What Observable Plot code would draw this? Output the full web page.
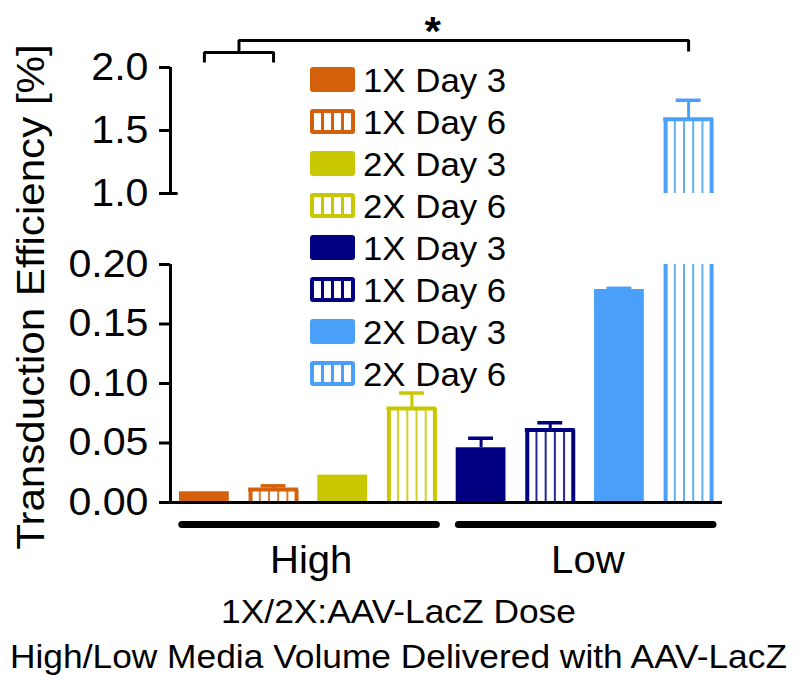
<!DOCTYPE html>
<html>
<head>
<meta charset="utf-8">
<script src="https://cdn.jsdelivr.net/npm/d3@7"></script>
<script src="https://cdn.jsdelivr.net/npm/@observablehq/plot@0.6"></script>
<style>
  body { margin: 0; background: #fff; }
  #wrap { position: relative; width: 800px; height: 684px; font-family: "Liberation Sans", Arial, Helvetica, sans-serif; }
  #legend { position: absolute; left: 310px; top: 58px; }
  .row { display: flex; align-items: center; height: 42px; }
  .sw { width: 45px; height: 25px; box-sizing: border-box; border-radius: 3px; flex: none; }
  .lab { margin-left: 8px; font-size: 33px; line-height: 42px; color: #000; white-space: nowrap;
         transform: scaleX(1.055); transform-origin: left center; position: relative; top: 2px; }
</style>
</head>
<body>
<div id="wrap"></div>
<script>
// ---------------- data ----------------
const barIds   = ["High 1X Day 3", "High 1X Day 6", "High 2X Day 3", "High 2X Day 6",
                  "Low 1X Day 3", "Low 1X Day 6", "Low 2X Day 3", "Low 2X Day 6"];
const volumes  = ["High", "High", "High", "High", "Low", "Low", "Low", "Low"];
const values   = [0.009, 0.011, 0.023, 0.079, 0.046, 0.061, 0.179, 1.59];
const errors   = [0, 0.003, 0, 0.013, 0.008, 0.006, 0.001, 0.15];
const colors   = ["#D4600C", "#D4600C", "#C9C800", "#C9C800", "#000080", "#000080", "#4AA0F8", "#4AA0F8"];
const striped  = [false, true, false, true, false, true, false, true];
const legendLabels = ["1X Day 3", "1X Day 6", "2X Day 3", "2X Day 6", "1X Day 3", "1X Day 6", "2X Day 3", "2X Day 6"];
const groupNames = ["High", "Low"];
const yTicks = [0, 0.05, 0.10, 0.15, 0.20, 1.0, 1.5, 2.0];
const yBreakDomain = [0, 0.2, 1.0, 2.0];      // axis break: 0–0.20 and 1.0–2.0
const yBreakLength = [0, 238, 309, 435];      // relative length of each axis piece
const ySegments = [[0, 0.2], [1.0, 2.0]];
const yTitle = "Transduction Efficiency [%]";
const captionLines = ["1X/2X:AAV-LacZ Dose", "High/Low Media Volume Delivered with AAV-LacZ"];
// significance annotation: bars 0 & 1 compared against bar 7
const sigPair = [0, 1];
const sigTarget = 7;
const sigLevels = {legLow: 2.04, level1: 2.119, level2: 2.214, targetLeg: 2.127, star: 2.175};
const sigStarX = 3.3;
const sigLabel = "*";

// ---------------- derived tables ----------------
const HW = 0.36;          // half bar width (in bar-index units)
const xDomain = [-0.49, 7.49];
const brk = d3.scaleLinear().domain(yBreakDomain).range(yBreakLength);
const bars = barIds.map((id, i) => ({id, i, volume: volumes[i], value: values[i], err: errors[i], color: colors[i], striped: striped[i]}));
const segs = bars.flatMap(b => ySegments.filter(([lo]) => b.value > lo)
  .map(([lo, hi]) => ({...b, lo, hi: Math.min(hi, b.value), top: b.value <= hi})));
const solidSegs = segs.filter(s => !s.striped);
const stripeSegs = segs.filter(s => s.striped);
const errBars = bars.filter(b => b.err > 0);
const groups = groupNames.map(name => {
  const idx = bars.filter(b => b.volume === name).map(b => b.i);
  return {name, first: d3.min(idx), last: d3.max(idx)};
});
const bracket = [
  {part: "a", x: sigPair[0], y: sigLevels.legLow},
  {part: "a", x: sigPair[0], y: sigLevels.level1},
  {part: "a", x: sigPair[1], y: sigLevels.level1},
  {part: "a", x: sigPair[1], y: sigLevels.legLow},
  {part: "b", x: (sigPair[0] + sigPair[1]) / 2, y: sigLevels.level1},
  {part: "b", x: (sigPair[0] + sigPair[1]) / 2, y: sigLevels.level2},
  {part: "b", x: sigTarget, y: sigLevels.level2},
  {part: "b", x: sigTarget, y: sigLevels.targetLeg}
];
const stripeOffsets = [-13.8, -4.6, 4.6, 13.8];
const fmtTick = u => { const v = brk.invert(u); return v < 0.5 ? v.toFixed(2) : v.toFixed(1); };

const chart = Plot.plot({
  width: 800,
  height: 684,
  marginLeft: 170,
  marginRight: 78,
  marginTop: 0,
  marginBottom: 0,
  style: {fontFamily: "Liberation Sans, Arial, Helvetica, sans-serif", fontSize: "33px", color: "#000", background: "transparent"},
  x: {domain: xDomain, axis: null},
  y: {transform: brk, domain: [yBreakLength[0], yBreakLength[3]], range: [502, 67], label: null},
  marks: [
    // solid bars
    Plot.rectY(solidSegs, {x1: d => d.i - HW, x2: d => d.i + HW, y1: "lo", y2: "hi", fill: d => d.color}),
    // striped bars: interior stripes
    ...stripeOffsets.map(off => Plot.ruleX(stripeSegs, {x: "i", y1: "lo", y2: "hi", stroke: d => d.color, strokeWidth: 2, strokeOpacity: 0.85, dx: off})),
    // striped bars: edges
    Plot.ruleX(stripeSegs, {x: "i", y1: "lo", y2: "hi", stroke: d => d.color, strokeWidth: 4, dx: -23}),
    Plot.ruleX(stripeSegs, {x: "i", y1: "lo", y2: "hi", stroke: d => d.color, strokeWidth: 4, dx: 23}),
    Plot.ruleY(stripeSegs.filter(s => s.top), {y: "hi", x1: d => d.i - HW, x2: d => d.i + HW, stroke: d => d.color, strokeWidth: 4}),
    // error bars
    Plot.ruleX(errBars, {x: "i", y1: "value", y2: d => d.value + d.err, stroke: d => d.color, strokeWidth: 3}),
    Plot.ruleY(errBars, {y: d => d.value + d.err, x1: d => d.i - 0.18, x2: d => d.i + 0.18, stroke: d => d.color, strokeWidth: 3.5}),
    // baseline and broken axis line (with the little break cap at the bottom of the upper piece)
    Plot.ruleY([0], {stroke: "#000", strokeWidth: 3}),
    Plot.ruleX(ySegments, {x: () => xDomain[0], y1: d => d[0], y2: d => d[1], stroke: "#000", strokeWidth: 3}),
    Plot.ruleY([ySegments[1][0]], {x1: () => xDomain[0], x2: () => xDomain[0] + 0.11, stroke: "#000", strokeWidth: 3}),
    // axis ticks live in the (break-transformed) scale space
    Plot.axisY({ticks: yTicks.map(brk), tickFormat: fmtTick, tickSize: 11, tickPadding: 11,
                fontSize: 39, strokeWidth: 3, label: null}),
    // group underlines and labels
    Plot.ruleY(groups, {y: () => 0, dy: 22, x1: d => d.first - 0.32, x2: d => d.last + HW, stroke: "#000", strokeWidth: 7, strokeLinecap: "round"}),
    Plot.text(groups, {x: d => (d.first + d.last) / 2, text: "name", frameAnchor: "bottom", lineAnchor: "bottom", dy: -112, dx: 3, fontSize: 38}),
    // captions
    Plot.text([captionLines[0]], {frameAnchor: "bottom", textAnchor: "middle", lineAnchor: "bottom", dx: -48, dy: -62, fontSize: 33.5}),
    Plot.text([captionLines[1]], {frameAnchor: "bottom", textAnchor: "middle", lineAnchor: "bottom", dx: -48, dy: -17, fontSize: 33.5}),
    // y title
    Plot.text([yTitle], {frameAnchor: "left", textAnchor: "middle", rotate: -90, lineAnchor: "bottom", dx: -127, dy: -45.5, fontSize: 39}),
    // significance bracket
    Plot.line(bracket, {x: "x", y: "y", z: "part", stroke: "#000", strokeWidth: 3, strokeLinejoin: "miter", strokeLinecap: "butt"}),
    Plot.text([sigLabel], {x: () => sigStarX, y: () => sigLevels.star, lineAnchor: "bottom", fontSize: 40, fontWeight: "bold"})
  ]
});

// slight horizontal stretch of the text, as in the reference
chart.querySelectorAll("text").forEach(t => {
  const tr = t.getAttribute("transform") || "";
  const xa = t.getAttribute("x");
  let extra = "";
  if (xa !== null && !isNaN(+xa) && +xa !== 0) { extra = ` translate(${+xa},0)`; t.removeAttribute("x"); }
  const s = tr.includes("rotate") ? " scale(1.08,1)" : " scale(1.055,1)";
  t.setAttribute("transform", (tr + extra + s).trim());
});

const wrap = document.getElementById("wrap");
wrap.appendChild(chart);

// legend
const legend = document.createElement("div");
legend.id = "legend";
legendLabels.forEach((lab, k) => {
  const row = document.createElement("div");
  row.className = "row";
  const sw = document.createElement("div");
  sw.className = "sw";
  const c = colors[k];
  if (striped[k]) {
    sw.style.border = `4px solid ${c}`;
    sw.style.background = `repeating-linear-gradient(90deg, #fff 0 7px, ${c} 7px 10px)`;
  } else {
    sw.style.background = c;
  }
  const tx = document.createElement("span");
  tx.className = "lab";
  tx.textContent = lab;
  row.appendChild(sw);
  row.appendChild(tx);
  legend.appendChild(row);
});
wrap.appendChild(legend);
</script>
</body>
</html>
